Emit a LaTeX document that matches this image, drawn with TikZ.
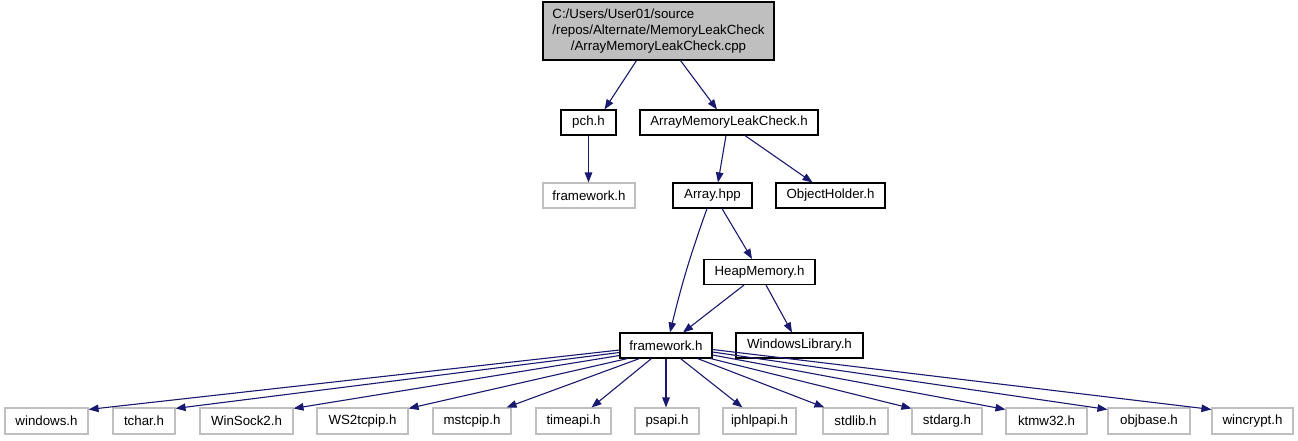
\documentclass[tikz,border=0pt]{standalone}
\usepackage{fontspec}
\setmainfont{Liberation Sans}
\usetikzlibrary{arrows.meta,calc}
\definecolor{edgeblue}{HTML}{191970}
\definecolor{lgray}{HTML}{BFBFBF}
\begin{document}
\begin{tikzpicture}[x=1pt,y=-1pt,
  box/.style={draw=black,line width=1.1pt,minimum height=25pt,inner sep=0pt,
    font=\fontsize{13.3}{16}\selectfont,anchor=center},
  gbox/.style={box,draw=lgray},
  edge/.style={draw=edgeblue,line width=1.1pt,-{Triangle[length=10pt,width=7.5pt]}}]
\fill[white] (0,0) rectangle (1298,440);
\useasboundingbox (0,0) rectangle (1298,440);
% top
\node[box,fill=lgray,minimum width=231pt,minimum height=58pt] (top) at (658.5,31)
  {\begin{tabular}{@{}l@{}}C:/Users/User01/source\\/repos/Alternate/MemoryLeakCheck\\\multicolumn{1}{@{}c@{}}{/ArrayMemoryLeakCheck.cpp}\end{tabular}};
\node[box,minimum width=55pt] (pch) at (588.5,122.5) {pch.h};
\node[box,minimum width=178pt] (amlc) at (729,122.5) {ArrayMemoryLeakCheck.h};
\node[gbox,minimum width=92pt] (fwg) at (589,195.5) {framework.h};
\node[box,minimum width=79pt] (arr) at (712.5,195.5) {Array.hpp};
\node[box,minimum width=109pt] (obj) at (830.5,195.5) {ObjectHolder.h};
\node[box,minimum width=111pt] (heap) at (759.5,272) {HeapMemory.h};
\node[box,minimum width=92pt] (fw) at (666,345.5) {framework.h};
\node[box,minimum width=127pt] (winlib) at (799.5,345.5) {WindowsLibrary.h};
% bottom row
\node[gbox,minimum width=83pt,minimum height=26pt] (windows) at (46.5,421) {windows.h};
\node[gbox,minimum width=62pt,minimum height=26pt] (tchar) at (144,421) {tchar.h};
\node[gbox,minimum width=93pt,minimum height=26pt] (winsock) at (246.5,421) {WinSock2.h};
\node[gbox,minimum width=91pt,minimum height=26pt] (wstcp) at (362.5,421) {WS2tcpip.h};
\node[gbox,minimum width=78pt,minimum height=26pt] (mst) at (472,421) {mstcpip.h};
\node[gbox,minimum width=75pt,minimum height=26pt] (time) at (573.5,421) {timeapi.h};
\node[gbox,minimum width=64pt,minimum height=26pt] (psapi) at (667,421) {psapi.h};
\node[gbox,minimum width=73pt,minimum height=26pt] (iph) at (759.5,421) {iphlpapi.h};
\node[gbox,minimum width=65pt,minimum height=26pt] (stdlib) at (855.5,421) {stdlib.h};
\node[gbox,minimum width=70pt,minimum height=26pt] (stdarg) at (947,421) {stdarg.h};
\node[gbox,minimum width=81pt,minimum height=26pt] (ktm) at (1046.5,421) {ktmw32.h};
\node[gbox,minimum width=82pt,minimum height=26pt] (objb) at (1149,421) {objbase.h};
\node[gbox,minimum width=81pt,minimum height=26pt] (wincrypt) at (1252.5,421) {wincrypt.h};
% edges upper
\draw[edge] ([xshift=-22pt]top.south) -- ([xshift=16pt]pch.north);
\draw[edge] ([xshift=22pt]top.south) -- ([xshift=-12pt]amlc.north);
\draw[edge] (pch.south) -- (pch.south |- fwg.north);
\draw[edge] ([xshift=-3pt]amlc.south) -- ([xshift=5.5pt]arr.north);
\draw[edge] ([xshift=16pt]amlc.south) -- ([xshift=-18pt]obj.north);
\draw[edge] ([xshift=9.5pt]arr.south) -- ([xshift=-7.5pt]heap.north);
\draw[edge] ([xshift=-5.5pt]arr.south) to[bend right=3] ([xshift=4pt]fw.north);
\draw[edge] ([xshift=-15.5pt]heap.south) -- ([xshift=17pt]fw.north);
\draw[edge] ([xshift=6.5pt]heap.south) -- ([xshift=-7.5pt]winlib.north);
% edges from framework.h
\draw[edge] ([yshift=-4.5pt]fw.west) -- ([yshift=-2pt]windows.north east);
\draw[edge] ([yshift=-7pt]fw.west) -- ([yshift=-1pt]tchar.north east);
\draw[edge] ([yshift=-10pt]fw.west) -- ([yshift=-1pt]winsock.north east);
\draw[edge] ([xshift=8pt]fw.south west) -- ([yshift=-1pt]wstcp.north east);
\draw[edge] ([xshift=20pt]fw.south west) -- ([xshift=-5pt]mst.north east);
\draw[edge] ([xshift=32pt]fw.south west) -- ([xshift=-20pt]time.north east);
\draw[edge] (fw.south) -- (fw.south |- psapi.north);
\draw[edge] ([xshift=-32pt]fw.south east) -- ([xshift=20pt]iph.north west);
\draw[edge] ([xshift=-15pt]fw.south east) -- ([xshift=2pt]stdlib.north west);
\draw[edge] ([xshift=-2pt]fw.south east) -- ([yshift=-1pt]stdarg.north west);
\draw[edge] ([yshift=-9.5pt]fw.east) -- ([yshift=-2pt]ktm.north west);
\draw[edge] ([yshift=-6.5pt]fw.east) -- ([yshift=-2pt]objb.north west);
\draw[edge] ([yshift=-4pt]fw.east) -- ([yshift=-2pt]wincrypt.north west);
\end{tikzpicture}
\end{document}
